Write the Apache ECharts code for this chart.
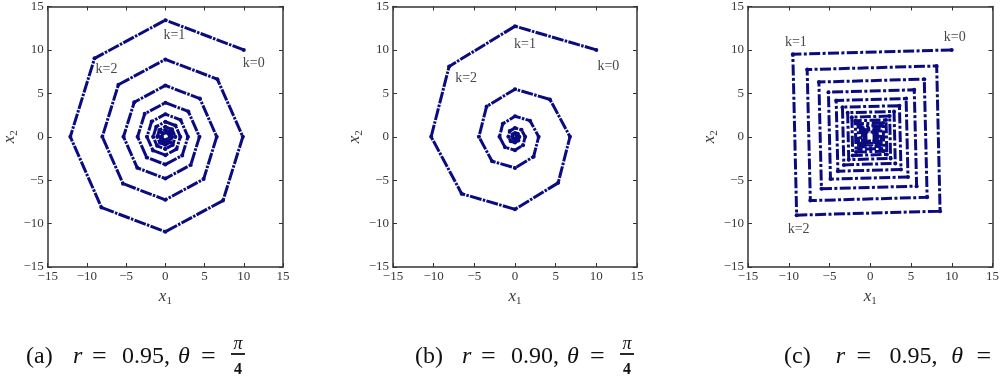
<!DOCTYPE html>
<html>
<head>
<meta charset="utf-8">
<script src="https://cdn.jsdelivr.net/npm/echarts@6/dist/echarts.min.js"></script>
<style>
  html, body { margin: 0; padding: 0; background: #ffffff; }
  #chart { width: 1002px; height: 383px; }
</style>
</head>
<body>
<div id="chart"></div>
<script>
// State trajectories x(k) = r * R(theta) * x(k-1), x(0) = (10, 10)
// (a) r = 0.95, theta = pi/4
const trajA = [
  [10,10],[0,13.43],[-9.03,9.03],[-12.12,0],[-8.15,-8.15],[0,-10.94],[7.35,-7.35],[9.88,0],
  [6.63,6.63],[0,8.91],[-5.99,5.99],[-8.04,0],[-5.40,-5.40],[0,-7.26],[4.88,-4.88],[6.55,0],
  [4.40,4.40],[0,5.91],[-3.97,3.97],[-5.34,0],[-3.58,-3.58],[0,-4.82],[3.24,-3.24],[4.35,0],
  [2.92,2.92],[0,3.92],[-2.64,2.64],[-3.54,0],[-2.38,-2.38],[0,-3.20],[2.15,-2.15],[2.88,0],
  [1.94,1.94],[0,2.60],[-1.75,1.75],[-2.35,0],[-1.58,-1.58],[0,-2.12],[1.42,-1.42],[1.91,0],
  [1.29,1.29],[0,1.73],[-1.16,1.16],[-1.56,0],[-1.05,-1.05],[0,-1.41],[0.94,-0.94],[1.27,0],
  [0.85,0.85],[0,1.15],[-0.77,0.77],[-1.03,0],[-0.69,-0.69],[0,-0.93],[0.63,-0.63],[0.84,0],
  [0.57,0.57],[0,0.76],[-0.51,0.51],[-0.69,0],[-0.46,-0.46],[0,-0.62],[0.42,-0.42],[0.56,0],
  [0.38,0.38],[0,0.50],[-0.34,0.34],[-0.45,0],[-0.31,-0.31],[0,-0.41],[0.28,-0.28]
];
// (b) r = 0.90, theta = pi/4
const trajB = [
  [10,10],[0,12.73],[-8.10,8.10],[-10.31,0],[-6.56,-6.56],[0,-8.35],[5.31,-5.31],[6.76,0],
  [4.30,4.30],[0,5.48],[-3.49,3.49],[-4.44,0],[-2.82,-2.82],[0,-3.59],[2.29,-2.29],[2.91,0],
  [1.85,1.85],[0,2.36],[-1.50,1.50],[-1.91,0],[-1.22,-1.22],[0,-1.55],[0.98,-0.98],[1.25,0],
  [0.80,0.80],[0,1.02],[-0.65,0.65],[-0.82,0],[-0.52,-0.52],[0,-0.67],[0.42,-0.42],[0.54,0],
  [0.34,0.34],[0,0.44],[-0.28,0.28],[-0.35,0],[-0.23,-0.23],[0,-0.29],[0.18,-0.18],[0.23,0],[0.15,0.15]
];
// (c) r = 0.95, quarter-turn rotation
const trajC = [
  [10,10],[-9.50,9.50],[-9.03,-9.03],[8.57,-8.57],[8.15,8.15],[-7.74,7.74],[-7.35,-7.35],[6.98,-6.98],
  [6.63,6.63],[-6.30,6.30],[-5.99,-5.99],[5.69,-5.69],[5.40,5.40],[-5.13,5.13],[-4.88,-4.88],[4.63,-4.63],
  [4.40,4.40],[-4.18,4.18],[-3.97,-3.97],[3.77,-3.77],[3.58,3.58],[-3.41,3.41],[-3.24,-3.24],[3.07,-3.07],
  [2.92,2.92],[-2.77,2.77],[-2.64,-2.64],[2.50,-2.50],[2.38,2.38],[-2.26,2.26],[-2.15,-2.15],[2.04,-2.04],
  [1.94,1.94],[-1.84,1.84],[-1.75,-1.75],[1.66,-1.66],[1.58,1.58],[-1.50,1.50],[-1.42,-1.42],[1.35,-1.35],
  [1.29,1.29],[-1.22,1.22],[-1.16,-1.16],[1.10,-1.10],[1.05,1.05],[-0.99,0.99],[-0.94,-0.94],[0.90,-0.90],
  [0.85,0.85],[-0.81,0.81],[-0.77,-0.77],[0.73,-0.73],[0.69,0.69],[-0.66,0.66],[-0.63,-0.63],[0.60,-0.60],
  [0.57,0.57],[-0.54,0.54],[-0.51,-0.51],[0.48,-0.48],[0.46,0.46]
];
const axisRange = [-15, 15];
const axisStep = 5;
const stepLabels = ['k=0', 'k=1', 'k=2'];
const captionLetters = ['(a)', '(b)', '(c)'];
const captionR = ['0.95,', '0.90,', '0.95,'];

// layout
const panels = [
  { left: 40,  width: 243, data: trajA, labelOffsets: [[10, 13], [9, 15], [12, 11]],
    dash: [12, 1.3, 2.5, 1.3], capX: 26, capScale: 1.0, fraction: true },
  { left: 393, width: 244, data: trajB, labelOffsets: [[12, 16], [10, 18], [17, 12]],
    dash: [12, 1.3, 2.5, 1.3], capX: 415, capScale: 1.0, fraction: true },
  { left: 748, width: 245, data: trajC, labelOffsets: [[3, -13], [3, -12], [2, 14]],
    dash: [11, 2.4, 3, 2.4], capX: 784, capScale: 1.1, fraction: false }
];
const gridTop = 5, gridHeight = 262;
const inkColor = '#0b0b80';
const axisColor = '#333333';
const tickTextColor = '#383838';
const serif = '"Liberation Serif", "DejaVu Serif", serif';

const minus = v => String(v).replace('-', '\u2212');

const grids = [], xAxes = [], yAxes = [], series = [], graphics = [];

panels.forEach((p, i) => {
  grids.push({ left: p.left, top: gridTop, width: p.width, height: gridHeight });
  const common = {
    gridIndex: i, type: 'value', min: axisRange[0], max: axisRange[1], interval: axisStep,
    splitLine: { show: false },
    axisLine: { onZero: false, lineStyle: { color: axisColor, width: 1.5 } },
    axisTick: { inside: true, length: 4, lineStyle: { color: axisColor, width: 1 } }
  };
  const nameRich = {
    v: { fontFamily: serif, fontStyle: 'italic', fontSize: 17, color: tickTextColor },
    s: { fontFamily: serif, fontSize: 11, color: tickTextColor, padding: [9, 0, 0, 0] }
  };
  xAxes.push(Object.assign({}, common, {
    position: 'bottom',
    axisLabel: { formatter: minus, fontFamily: serif, fontSize: 13, color: tickTextColor, margin: 3 },
    name: '{v|x}{s|1}', nameLocation: 'middle', nameGap: 9,
    nameTextStyle: { rich: nameRich }
  }));
  xAxes.push(Object.assign({}, common, { position: 'top', axisLabel: { show: false } }));
  yAxes.push(Object.assign({}, common, {
    position: 'left',
    axisLabel: { formatter: minus, fontFamily: serif, fontSize: 13, color: tickTextColor, margin: 4 },
    name: '{v|x}{s|2}', nameLocation: 'middle', nameGap: 18, nameRotate: 90,
    nameTextStyle: { rich: nameRich }
  }));
  yAxes.push(Object.assign({}, common, { position: 'right', axisLabel: { show: false } }));

  const data = p.data.map((pt, k) => {
    if (k < stepLabels.length) {
      return {
        value: pt,
        label: {
          show: true, formatter: stepLabels[k], position: 'inside', offset: p.labelOffsets[k],
          fontFamily: serif, fontSize: 14, color: '#484848'
        }
      };
    }
    return pt;
  });
  series.push({
    type: 'line', xAxisIndex: 2 * i, yAxisIndex: 2 * i, data: data,
    symbol: 'circle', symbolSize: 4, showSymbol: true,
    itemStyle: { color: inkColor },
    lineStyle: { color: inkColor, width: 3, type: p.dash },
    animation: false, silent: true
  });

  // caption below each panel
  const cy = 357;
  const x0 = p.capX, sc = p.capScale;
  const txt = (dx, s, extra) => graphics.push({
    type: 'text', x: x0 + dx * sc, y: cy,
    style: Object.assign({ text: s, font: '24px ' + serif, fill: '#111', verticalAlign: 'middle' }, extra || {})
  });
  txt(0, captionLetters[i]);
  txt(47, 'r', { font: 'italic 24px ' + serif });
  txt(66, '=', { font: '26px ' + serif });
  txt(96, captionR[i]);
  txt(152, '\u03b8', { font: 'italic 24px ' + serif });
  txt(175, '=', { font: '26px ' + serif });
  if (p.fraction) {
    const fx = x0 + 212 * sc;
    graphics.push({ type: 'text', x: fx, y: 344, style: { text: '\u03c0', font: 'italic 18px ' + serif, fill: '#111', align: 'center', verticalAlign: 'middle' } });
    graphics.push({ type: 'line', shape: { x1: fx - 7, y1: 354, x2: fx + 7, y2: 354 }, style: { stroke: '#111', lineWidth: 1.8 } });
    graphics.push({ type: 'text', x: fx, y: 370, style: { text: '4', font: 'bold 16px ' + serif, fill: '#111', align: 'center', verticalAlign: 'middle' } });
  }
});

const chart = echarts.init(document.getElementById('chart'), null, { renderer: 'canvas' });
chart.setOption({
  backgroundColor: '#ffffff',
  animation: false,
  grid: grids,
  xAxis: xAxes,
  yAxis: yAxes,
  series: series,
  graphic: graphics
});
</script>
</body>
</html>
